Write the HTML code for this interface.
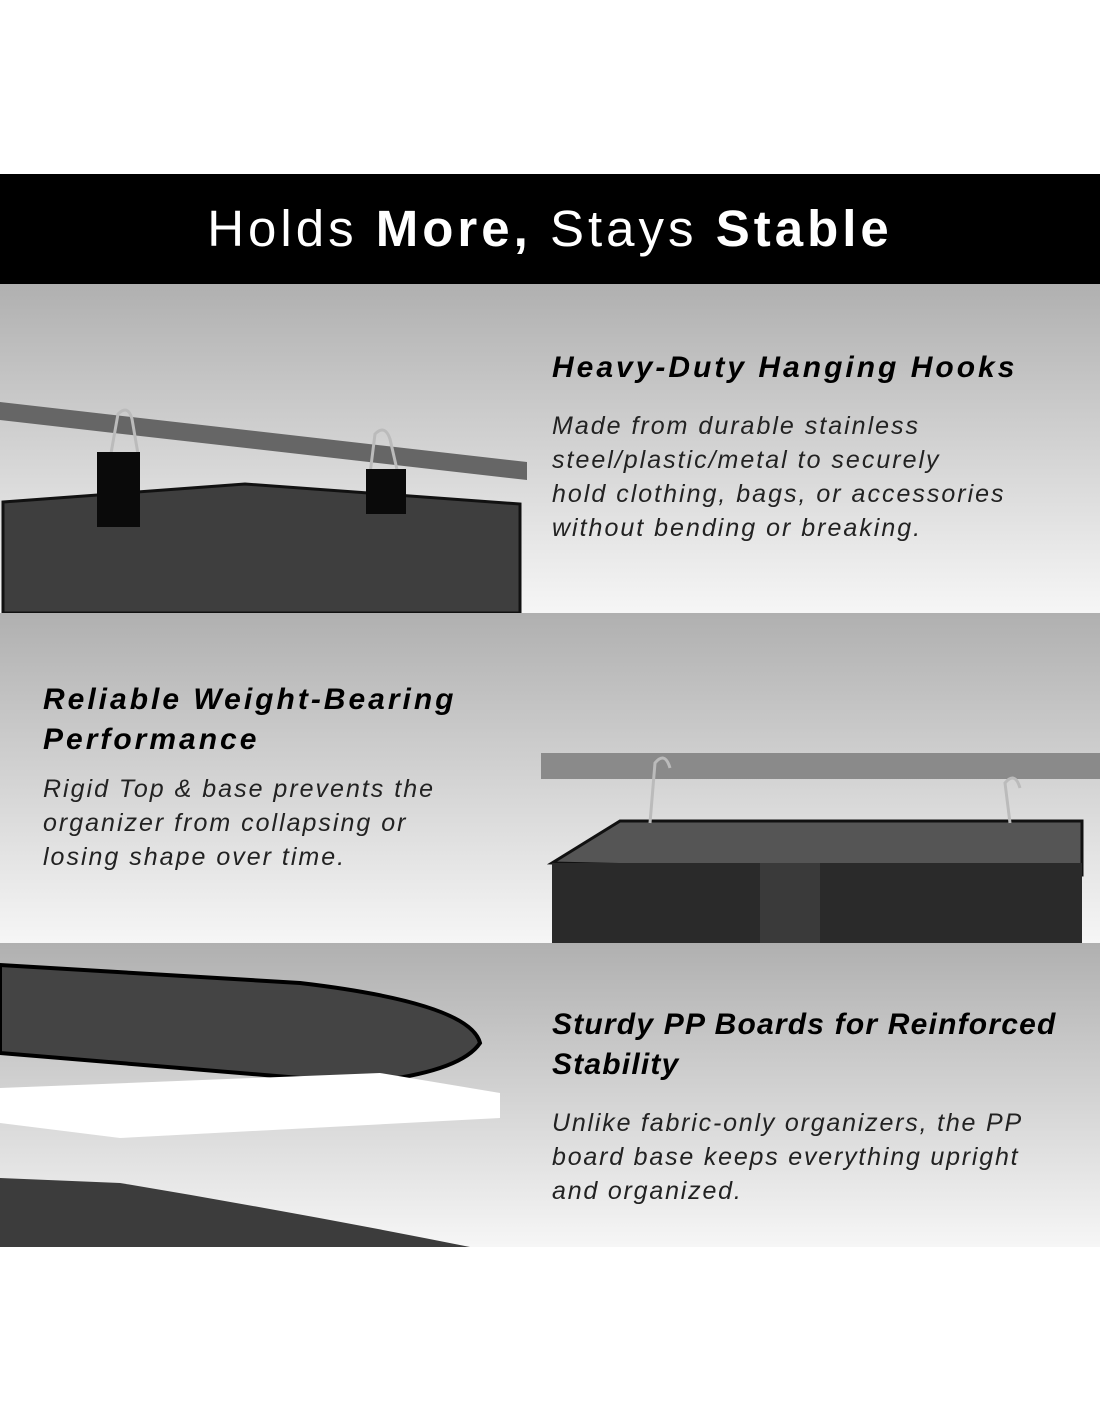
<!DOCTYPE html>
<html><head><style>
body{margin:0;width:1100px;height:1422px;background:#fff;position:relative;overflow:hidden;font-family:"Liberation Sans",sans-serif}
.hdr{position:absolute;top:174px;left:0;width:1100px;height:110px;background:#000;color:#fff;font-size:51px;text-align:center;line-height:110px;letter-spacing:4px}
.sec{position:absolute;left:0;width:1100px;background:linear-gradient(#b0b0b0,#f6f6f6)}
.t{position:absolute;font-style:italic;color:#111;white-space:nowrap}
.h{font-weight:bold;font-size:30px;line-height:40px;color:#000;letter-spacing:3px}
.b{font-size:25px;line-height:34px;color:#222;letter-spacing:2px}
</style></head><body>
<div class="hdr">Holds <b>More,</b> Stays <b>Stable</b></div>
<div class="sec" style="top:284px;height:329px">
<svg width="1100" height="329" style="position:absolute;left:0;top:0">
<polygon points="0,118 527,178 527,196 0,136" fill="#666"/>
<polygon points="3,218 245,200 520,220 520,329 3,329" fill="#3e3e3e" stroke="#111" stroke-width="3"/>
<path d="M110,175 L118,130 Q128,120 132,135 L138,170" stroke="#bbb" stroke-width="3" fill="none"/>
<path d="M370,190 L375,150 Q385,140 390,155 L398,190" stroke="#bbb" stroke-width="3" fill="none"/>
<rect x="97" y="168" width="43" height="75" fill="#0a0a0a"/>
<rect x="366" y="185" width="40" height="45" fill="#0a0a0a"/>
</svg>
<div class="t h" style="left:552px;top:64px">Heavy-Duty Hanging Hooks</div>
<div class="t b" style="left:552px;top:125px">Made from durable stainless<br>steel/plastic/metal to securely<br>hold clothing, bags, or accessories<br>without bending or breaking.</div>
</div>
<div class="sec" style="top:613px;height:330px">
<svg width="1100" height="330" style="position:absolute;left:0;top:0">
<rect x="541" y="140" width="559" height="26" fill="#8a8a8a"/>
<polygon points="552,250 620,208 1082,208 1082,262" fill="#555" stroke="#111" stroke-width="3"/>
<rect x="552" y="250" width="530" height="80" fill="#2a2a2a"/>
<rect x="760" y="250" width="60" height="80" fill="#3a3a3a"/>
<path d="M650,210 L655,150 Q665,138 670,155" stroke="#bbb" stroke-width="3" fill="none"/>
<path d="M1010,210 L1005,170 Q1015,158 1020,175" stroke="#bbb" stroke-width="3" fill="none"/>
</svg>
<div class="t h" style="left:43px;top:67px">Reliable Weight-Bearing<br>Performance</div>
<div class="t b" style="left:43px;top:159px">Rigid Top &amp; base prevents the<br>organizer from collapsing or<br>losing shape over time.</div>
</div>
<div class="sec" style="top:943px;height:304px">
<svg width="1100" height="304" style="position:absolute;left:0;top:0">
<path d="M0,22 L300,40 Q470,60 480,100 Q460,130 360,140 L0,110 Z" fill="#444" stroke="#000" stroke-width="4"/>
<polygon points="0,145 380,130 500,150 500,175 120,195 0,180" fill="#fff"/>
<path d="M0,235 L120,240 Q300,270 470,304 L0,304 Z" fill="#3c3c3c"/>
</svg>
<div class="t h" style="left:552px;top:62px;letter-spacing:1.2px">Sturdy PP Boards for Reinforced<br>Stability</div>
<div class="t b" style="left:552px;top:163px;letter-spacing:1.8px">Unlike fabric-only organizers, the PP<br>board base keeps everything upright<br>and organized.</div>
</div>
</body></html>
